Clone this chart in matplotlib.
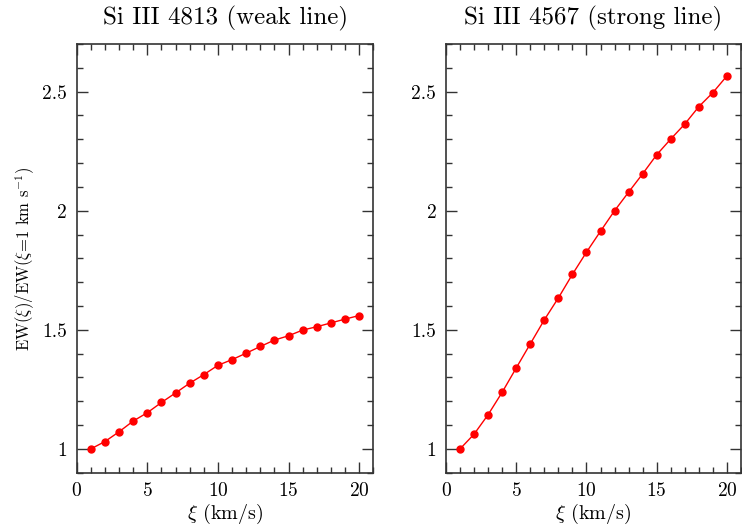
import matplotlib
matplotlib.use("Agg")
import matplotlib.pyplot as plt
from matplotlib.ticker import MultipleLocator

plt.rcParams['font.family'] = 'serif'
plt.rcParams['font.serif'] = ['cmr10', 'DejaVu Serif']
plt.rcParams['mathtext.fontset'] = 'cm'
plt.rcParams['axes.formatter.use_mathtext'] = True

# microturbulence (km/s)
xi = [1, 2, 3, 4, 5, 6, 7, 8, 9, 10, 11, 12, 13, 14, 15, 16, 17, 18, 19, 20]

# EW(xi)/EW(xi=1) for the two Si III lines
ew_4813 = [1.000, 1.031, 1.072, 1.117, 1.152, 1.195, 1.235, 1.276, 1.312, 1.351,
           1.375, 1.402, 1.430, 1.457, 1.475, 1.499, 1.513, 1.529, 1.545, 1.560]
ew_4567 = [1.000, 1.062, 1.144, 1.238, 1.340, 1.441, 1.542, 1.634, 1.733, 1.826,
           1.914, 2.000, 2.078, 2.155, 2.235, 2.301, 2.364, 2.437, 2.496, 2.566]

titles = ['Si III 4813 (weak line)', 'Si III 4567 (strong line)']

fig = plt.figure(figsize=(7.42, 5.26), dpi=100)
ax1 = fig.add_axes([0.1034, 0.1013, 0.3997, 0.815])
ax2 = fig.add_axes([0.6011, 0.1013, 0.3975, 0.815])

for ax, ew, title in zip([ax1, ax2], [ew_4813, ew_4567], titles):
    ax.plot(xi, ew, '-o', color='red', lw=1.0, ms=5, mec='red', mfc='red')
    ax.set_xlim(0, 21)
    ax.set_ylim(0.9, 2.7)
    ax.xaxis.set_major_locator(MultipleLocator(5))
    ax.xaxis.set_minor_locator(MultipleLocator(1))
    ax.yaxis.set_major_locator(MultipleLocator(0.5))
    ax.yaxis.set_minor_locator(MultipleLocator(0.1))
    ax.yaxis.set_major_formatter(plt.FuncFormatter(lambda v, p: '%g' % v))
    ax.tick_params(which='both', direction='in', top=True, right=True,
                   labelsize=14, color='#333333', width=1.0)
    ax.tick_params(which='major', length=8, pad=7)
    ax.tick_params(which='minor', length=4)
    for s in ax.spines.values():
        s.set_linewidth(1.2)
        s.set_color('#333333')
    ax.set_title(title, fontsize=18, pad=14)
    ax.set_xlabel(r'$\xi$ (km/s)', fontsize=14.5, labelpad=1)

ax1.set_ylabel(r'EW($\xi$)/EW($\xi$=1 km s$^{-1}$)', fontsize=12)
ax1.yaxis.set_label_coords(-0.135, 0.5)

fig.savefig('out.png', dpi=100)
